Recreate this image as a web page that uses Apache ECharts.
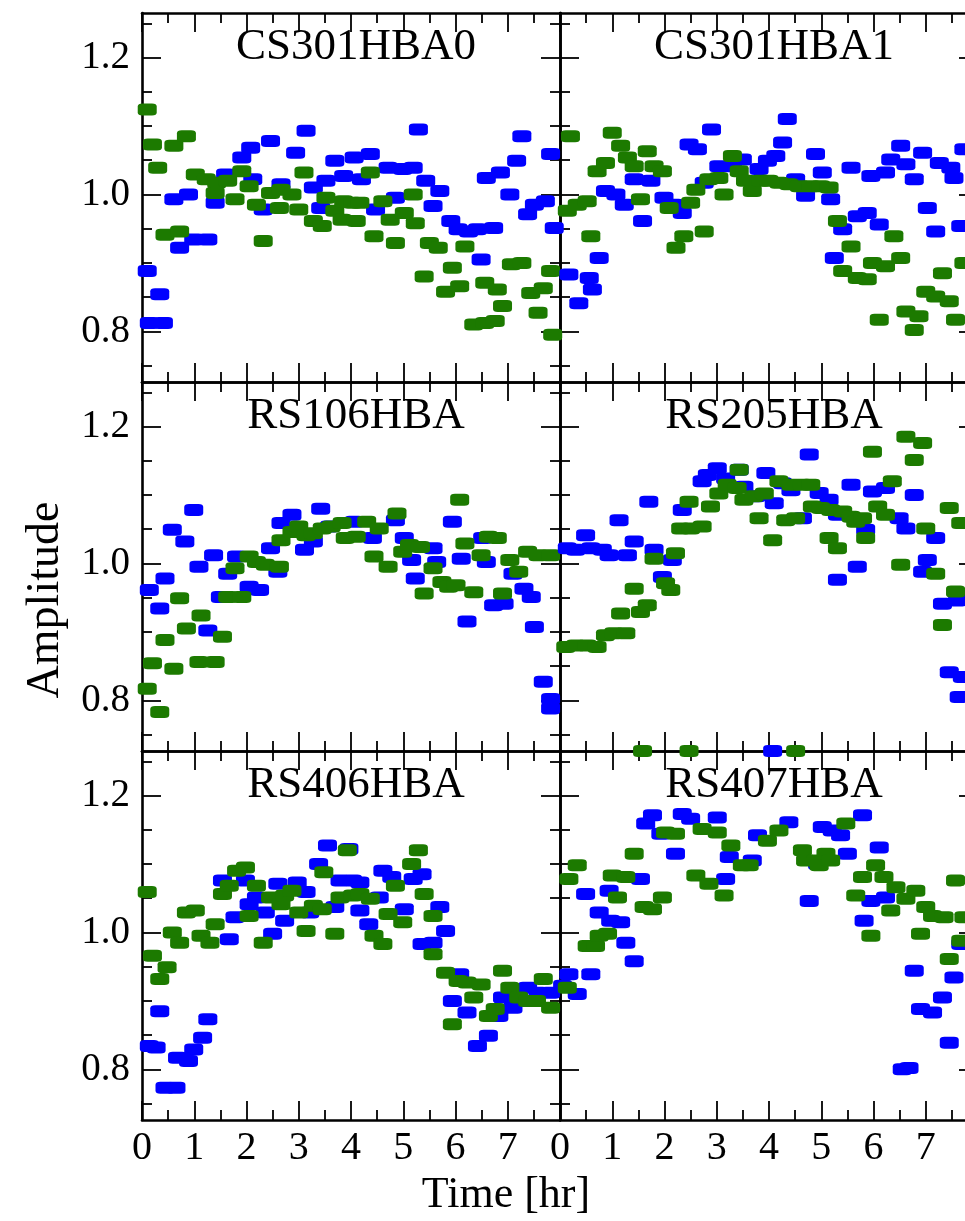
<!DOCTYPE html>
<html>
<head>
<meta charset="utf-8">
<script src="https://cdn.jsdelivr.net/npm/echarts@6/dist/echarts.min.js"></script>
<style>
  html, body { margin: 0; padding: 0; background: #fff; }
  #chart { width: 965px; height: 1221px; }
</style>
</head>
<body>
<div id="chart"></div>
<script>
// ---------------- data (time [hr], amplitude) ----------------
const panelNames = ['CS301HBA0', 'CS301HBA1', 'RS106HBA', 'RS205HBA', 'RS406HBA', 'RS407HBA'];

const cs301hba0Blue = [[0.1,0.888],[0.34,0.854],[0.14,0.812],[0.41,0.812],[0.61,0.993],[0.89,1.0],[0.72,0.922],[0.99,0.934],[1.26,0.934],[1.4,0.988],[1.6,1.029],[1.91,1.054],[2.08,1.068],[2.12,1.022],[2.32,0.978],[2.46,1.078],[2.66,1.015],[2.94,1.061],[3.14,1.093],[3.28,1.01],[3.42,0.98],[3.52,1.02],[3.69,1.049],[3.86,1.027],[4.06,1.054],[4.2,1.022],[4.37,1.059],[4.47,0.978],[4.71,1.039],[4.85,0.995],[4.99,1.037],[5.19,1.039],[5.29,1.095],[5.43,1.02],[5.57,0.983],[5.7,1.005],[5.91,0.961],[6.05,0.949],[6.25,0.946],[6.42,0.949],[6.49,0.905],[6.73,0.951],[6.59,1.024],[6.86,1.032],[7.04,1.0],[7.17,1.049],[7.27,1.085],[7.38,0.971],[7.51,0.985],[7.72,0.99],[7.82,1.059],[7.89,0.951]];
const cs301hba0Green = [[0.1,1.124],[0.2,1.073],[0.3,1.039],[0.61,1.071],[0.85,1.085],[0.44,0.941],[0.72,0.946],[1.02,1.029],[1.23,1.022],[1.43,1.017],[1.64,1.02],[1.4,1.002],[1.78,0.993],[1.91,1.034],[2.05,1.012],[2.19,0.985],[2.32,0.932],[2.46,1.002],[2.66,1.007],[2.87,1.0],[2.63,0.98],[3.0,0.978],[3.1,1.032],[3.28,0.961],[3.45,0.954],[3.52,0.995],[3.69,0.976],[3.86,0.99],[4.03,0.988],[4.17,0.988],[3.83,0.963],[4.1,0.961],[4.37,1.032],[4.44,0.939],[4.61,0.99],[4.75,0.963],[4.85,0.929],[5.02,0.973],[5.19,1.0],[5.23,0.958],[5.4,0.88],[5.5,0.929],[5.67,0.922],[5.81,0.858],[5.94,0.893],[6.08,0.866],[6.18,0.924],[6.35,0.81],[6.56,0.812],[6.76,0.815],[6.56,0.871],[6.8,0.861],[6.9,0.837],[7.07,0.898],[7.27,0.9],[7.44,0.856],[7.58,0.827],[7.68,0.863],[7.82,0.888],[7.86,0.795]];

const cs301hba1Blue = [[0.17,0.883],[0.36,0.841],[0.56,0.878],[0.62,0.861],[0.75,0.907],[0.87,1.005],[1.07,1.0],[1.23,0.985],[1.42,1.022],[1.58,0.961],[1.74,1.02],[1.99,0.995],[2.18,0.985],[2.34,0.973],[2.47,1.073],[2.63,1.066],[2.76,1.017],[2.9,1.095],[3.04,1.041],[3.3,1.041],[3.49,1.051],[3.81,1.037],[3.97,1.049],[4.13,1.056],[4.26,1.076],[4.35,1.11],[4.51,1.022],[4.7,0.998],[4.89,1.059],[5.02,1.032],[5.18,0.993],[5.25,0.907],[5.41,0.949],[5.57,1.039],[5.69,0.968],[5.88,0.973],[5.95,1.027],[6.11,0.956],[6.23,1.032],[6.33,1.051],[6.52,1.071],[6.62,1.044],[6.78,1.022],[6.94,1.061],[7.03,0.98],[7.19,0.946],[7.26,1.046],[7.48,1.039],[7.54,1.024],[7.67,0.954],[7.73,1.066]];
const cs301hba1Green = [[0.2,1.085],[0.14,0.976],[0.33,0.985],[0.52,0.99],[0.59,0.939],[0.71,1.034],[0.87,1.046],[1.0,1.09],[1.16,1.071],[1.29,1.054],[1.42,1.041],[1.54,0.993],[1.67,1.063],[1.8,1.041],[1.96,1.034],[2.09,0.98],[2.22,0.922],[2.37,0.939],[2.5,0.988],[2.6,1.007],[2.76,0.946],[2.85,1.022],[3.04,1.024],[3.14,1.0],[3.3,1.056],[3.43,1.034],[3.55,1.02],[3.68,1.005],[3.84,1.02],[4.0,1.02],[4.19,1.017],[4.38,1.015],[4.58,1.012],[4.8,1.012],[4.99,1.012],[5.15,1.01],[5.31,0.961],[5.57,0.924],[5.41,0.888],[5.69,0.878],[5.88,0.876],[5.98,0.9],[6.23,0.895],[6.39,0.939],[6.52,0.907],[6.11,0.817],[6.62,0.829],[6.78,0.802],[6.87,0.822],[7.0,0.858],[7.19,0.851],[7.32,0.885],[7.45,0.844],[7.57,0.817],[7.73,0.9]];

const rs106hbaBlue = [[0.14,0.961],[0.34,0.934],[0.44,0.978],[0.58,1.049],[0.82,1.032],[0.99,1.078],[1.09,0.995],[1.26,0.902],[1.37,1.012],[1.5,0.951],[1.64,0.985],[1.81,1.01],[2.05,0.966],[2.25,0.961],[2.46,1.022],[2.6,0.988],[2.66,1.059],[2.87,1.071],[3.11,1.02],[3.28,1.032],[3.42,1.08],[3.59,1.054],[4.06,1.061],[4.41,1.037],[4.85,1.063],[5.02,1.037],[5.16,1.005],[5.23,0.978],[5.57,1.022],[5.64,1.002],[5.94,1.061],[6.11,1.007],[6.22,0.915],[6.52,1.037],[6.59,1.002],[6.73,0.939],[6.93,0.941],[7.1,0.985],[7.31,0.963],[7.45,0.951],[7.51,0.907],[7.68,0.827],[7.82,0.802],[7.82,0.788]];
const rs106hbaGreen = [[0.1,0.817],[0.34,0.783],[0.2,0.854],[0.44,0.888],[0.61,0.846],[0.72,0.949],[0.85,0.905],[1.13,0.924],[1.09,0.856],[1.4,0.856],[1.54,0.893],[1.64,0.951],[1.78,0.993],[1.91,0.951],[2.05,1.01],[2.19,1.002],[2.36,0.998],[2.63,0.995],[2.66,1.034],[2.87,1.046],[3.0,1.054],[3.14,1.041],[3.28,1.044],[3.45,1.051],[3.62,1.054],[3.83,1.059],[3.89,1.037],[4.1,1.039],[4.3,1.061],[4.44,1.01],[4.54,1.051],[4.71,0.995],[4.88,1.073],[4.99,1.017],[5.12,1.027],[5.33,1.024],[5.4,0.956],[5.57,0.993],[5.74,0.973],[5.87,0.966],[6.01,0.968],[6.08,1.093],[6.18,1.029],[6.35,0.958],[6.49,1.012],[6.63,1.039],[6.8,1.037],[6.9,0.956],[7.04,1.005],[7.21,0.988],[7.38,1.017],[7.58,1.012],[7.82,1.012]];

const rs205hbaBlue = [[0.14,1.022],[0.49,1.041],[0.3,1.02],[0.59,1.022],[0.81,1.02],[0.94,1.012],[1.13,1.063],[1.29,1.012],[1.42,1.032],[1.7,1.09],[1.8,1.02],[1.96,0.98],[2.15,1.005],[2.34,1.078],[2.72,1.12],[2.82,1.129],[3.01,1.139],[3.17,1.124],[3.43,1.137],[3.52,1.112],[3.75,1.098],[3.94,1.132],[4.1,1.088],[4.26,1.117],[4.42,1.107],[4.64,1.066],[4.77,1.159],[4.96,1.103],[5.15,1.093],[5.31,1.071],[5.31,0.976],[5.57,1.115],[5.69,0.995],[5.85,1.049],[5.98,1.105],[6.23,1.11],[6.49,1.066],[6.62,1.051],[6.78,1.1],[6.94,0.988],[7.03,1.005],[7.19,1.037],[7.32,0.941],[7.45,0.841],[7.64,0.805],[7.7,0.834],[7.61,0.946]];
const rs205hbaGreen = [[0.11,0.878],[0.3,0.88],[0.52,0.88],[0.71,0.878],[0.87,0.895],[1.03,0.898],[1.26,0.898],[1.16,0.927],[1.42,0.963],[1.54,0.929],[1.67,0.939],[1.8,1.007],[2.02,0.971],[2.12,0.961],[2.21,1.015],[2.31,1.051],[2.47,1.09],[2.5,1.051],[2.72,1.054],[2.88,1.083],[3.04,1.102],[3.2,1.115],[3.43,1.137],[3.39,1.11],[3.52,1.093],[3.71,1.098],[3.81,1.066],[3.91,1.102],[4.07,1.034],[4.19,1.12],[4.32,1.063],[4.42,1.115],[4.51,1.066],[4.64,1.115],[4.8,1.115],[4.83,1.083],[4.99,1.081],[5.15,1.037],[5.18,1.078],[5.31,1.022],[5.41,1.076],[5.57,1.068],[5.66,1.061],[5.79,1.066],[5.85,1.037],[5.98,1.163],[6.08,1.083],[6.23,1.071],[6.36,1.12],[6.52,0.998],[6.62,1.185],[6.78,1.151],[6.94,1.176],[7.0,1.051],[7.19,0.985],[7.32,0.91],[7.45,1.081],[7.57,0.959],[7.67,1.059]];

const rs406hbaBlue = [[0.14,0.834],[0.27,0.832],[0.34,0.885],[0.44,0.773],[0.65,0.773],[0.68,0.817],[0.89,0.812],[0.99,0.829],[1.16,0.846],[1.26,0.873],[1.54,1.076],[1.67,0.99],[1.78,1.022],[1.98,1.076],[2.05,1.041],[2.19,1.051],[2.36,1.029],[2.5,0.998],[2.6,1.071],[2.73,1.017],[2.97,1.073],[3.14,1.059],[3.21,1.029],[3.38,1.1],[3.55,1.127],[3.69,1.037],[3.79,1.076],[3.96,1.122],[4.03,1.076],[4.17,1.073],[4.17,1.032],[4.34,1.012],[4.54,1.051],[4.61,1.09],[4.78,1.081],[5.02,1.034],[5.19,1.078],[5.36,1.085],[5.36,0.983],[5.57,0.985],[5.7,1.037],[5.81,1.002],[5.94,0.9],[6.08,0.939],[6.22,0.883],[6.42,0.834],[6.63,0.849],[6.83,0.878],[6.9,0.905],[7.1,0.89],[7.17,0.915],[7.38,0.919],[7.58,0.912],[7.82,0.912]];
const rs406hbaGreen = [[0.1,1.059],[0.2,0.966],[0.34,0.932],[0.48,0.949],[0.58,1.0],[0.72,0.985],[0.85,1.029],[1.02,1.032],[1.13,0.995],[1.3,0.985],[1.4,1.012],[1.54,1.056],[1.67,1.068],[1.81,1.09],[1.98,1.095],[2.05,1.024],[2.19,1.068],[2.32,0.985],[2.46,1.051],[2.66,1.041],[2.73,1.054],[2.87,1.061],[3.0,1.029],[3.14,1.002],[3.28,1.039],[3.45,1.034],[3.48,1.088],[3.69,0.998],[3.79,1.051],[3.93,1.12],[4.03,1.054],[4.17,1.056],[4.37,1.049],[4.44,0.995],[4.61,0.983],[4.71,1.027],[4.85,1.068],[4.99,1.015],[5.16,1.1],[5.29,1.12],[5.4,1.056],[5.57,1.024],[5.57,0.968],[5.81,0.941],[5.94,0.866],[6.05,0.929],[6.22,0.927],[6.35,0.905],[6.49,0.924],[6.63,0.878],[6.76,0.888],[6.9,0.944],[7.04,0.919],[7.21,0.905],[7.38,0.9],[7.55,0.9],[7.68,0.932],[7.82,0.89]];

const rs407hbaBlue = [[0.05,0.922],[0.17,0.939],[0.33,0.91],[0.59,0.939],[0.49,1.056],[0.75,1.029],[0.94,1.061],[0.97,1.017],[1.16,1.015],[1.26,0.985],[1.42,0.958],[1.54,1.078],[1.64,1.159],[1.77,1.171],[1.93,1.144],[2.21,1.115],[2.34,1.173],[2.5,1.166],[3.01,1.168],[3.17,1.078],[3.24,1.11],[3.68,1.105],[3.78,1.142],[4.07,1.265],[4.38,1.161],[4.77,1.046],[4.93,1.1],[5.02,1.154],[5.21,1.149],[5.37,1.142],[5.5,1.115],[5.79,1.171],[5.82,1.017],[5.95,1.046],[6.11,1.124],[6.23,1.051],[6.78,0.944],[6.9,0.888],[7.13,0.883],[7.32,0.905],[7.45,0.839],[7.54,0.934],[7.67,0.983],[6.55,0.8],[6.68,0.802]];
const rs407hbaGreen = [[0.17,1.078],[0.33,1.098],[0.14,0.919],[0.52,0.98],[0.68,0.98],[0.75,0.995],[0.91,0.998],[1.0,1.083],[1.1,1.051],[1.26,1.081],[1.42,1.115],[1.58,1.265],[1.61,1.037],[1.77,1.034],[1.96,1.051],[2.02,1.146],[2.21,1.144],[2.47,1.265],[2.6,1.083],[2.72,1.151],[2.85,1.071],[3.01,1.146],[3.14,1.054],[3.27,1.127],[3.49,1.098],[3.62,1.098],[3.97,1.134],[4.19,1.149],[4.51,1.265],[4.64,1.12],[4.7,1.105],[4.89,1.105],[4.96,1.098],[5.09,1.115],[5.18,1.105],[5.47,1.159],[5.66,1.054],[5.79,1.081],[5.95,0.995],[6.04,1.098],[6.2,1.081],[6.33,1.032],[6.43,1.066],[6.62,1.049],[6.81,1.061],[6.9,0.998],[7.0,1.037],[7.13,1.024],[7.35,1.022],[7.45,0.961],[7.57,1.076],[7.67,0.988],[7.73,1.022]];

const blueSets = [cs301hba0Blue, cs301hba1Blue, rs106hbaBlue, rs205hbaBlue, rs406hbaBlue, rs407hbaBlue];
const greenSets = [cs301hba0Green, cs301hba1Green, rs106hbaGreen, rs205hbaGreen, rs406hbaGreen, rs407hbaGreen];

// tick values / labels
const xLabelValues = [0, 1, 2, 3, 4, 5, 6, 7];
const yMajorTicks = [0.8, 1.0, 1.2];
const yMinorTicks = [0.75, 0.85, 0.9, 0.95, 1.05, 1.1, 1.15, 1.25];
const xLabelName = 'Time [hr]';
const yLabelName = 'Amplitude';

// ---------------- layout & style ----------------
const FONT = "'Liberation Serif', 'DejaVu Serif', serif";
const Y_MIN = 0.726, Y_MAX = 1.265;
const colLeft = [142, 560];
const rowTop = [13, 382, 751];
const PW = 418, PH = 369;
const BLUE = '#0000ff', GREEN = '#1c7a00';

const grids = [], xAxes = [], yAxes = [], series = [], titles = [];

panelNames.forEach((name, i) => {
  const row = Math.floor(i / 2), col = i % 2;
  grids.push({ left: colLeft[col], top: rowTop[row], width: PW, height: PH,
               containLabel: false, outerBoundsMode: 'none' });

  const line = { show: true, lineStyle: { color: '#000', width: 2.6 } };
  const tickStyle = { color: '#000', width: 1.8 };

  ['bottom', 'top'].forEach(pos => {
    xAxes.push({
      gridIndex: i, type: 'value', position: pos, min: 0, max: 8, interval: 1,
      axisLine: line,
      axisTick: { show: true, inside: true, length: 19, lineStyle: tickStyle },
      minorTick: { show: true, splitNumber: 2, length: 10, lineStyle: tickStyle },
      splitLine: { show: false }, minorSplitLine: { show: false },
      axisLabel: {
        show: pos === 'bottom' && row === 2, customValues: xLabelValues,
        margin: 8, fontFamily: FONT, fontSize: 40, color: '#000',
        formatter: v => String(v)
      }
    });
  });

  ['left', 'right'].forEach(pos => {
    yAxes.push({
      gridIndex: i, type: 'value', position: pos, min: Y_MIN, max: Y_MAX,
      axisLine: line,
      axisTick: { show: true, inside: true, length: 19, customValues: yMajorTicks, lineStyle: tickStyle },
      splitLine: { show: false },
      axisLabel: {
        show: pos === 'left' && col === 0, customValues: yMajorTicks,
        margin: 12, fontFamily: FONT, fontSize: 39, color: '#000',
        formatter: v => v.toFixed(1)
      }
    });
    yAxes.push({
      gridIndex: i, type: 'value', position: pos, min: Y_MIN, max: Y_MAX,
      axisLine: { show: false },
      axisTick: { show: true, inside: true, length: 10, customValues: yMinorTicks, lineStyle: tickStyle },
      splitLine: { show: false },
      axisLabel: { show: false, customValues: yMinorTicks }
    });
  });

  const common = { type: 'scatter', xAxisIndex: 2 * i, yAxisIndex: 4 * i,
                   symbol: 'roundRect', symbolSize: [19, 12], silent: true, animation: false };
  series.push(Object.assign({}, common, { name: name + ' XX', data: blueSets[i], itemStyle: { color: BLUE, opacity: 1 } }));
  series.push(Object.assign({}, common, { name: name + ' YY', data: greenSets[i], itemStyle: { color: GREEN, opacity: 1 } }));

  titles.push({
    text: name, left: colLeft[col] + PW / 2, top: rowTop[row] + 7, textAlign: 'center',
    textStyle: { fontFamily: FONT, fontSize: 45, fontWeight: 'normal', color: '#000' }
  });
});

const chart = echarts.init(document.getElementById('chart'), null, { renderer: 'canvas' });
chart.setOption({
  backgroundColor: '#fff',
  animation: false,
  title: titles,
  grid: grids,
  xAxis: xAxes,
  yAxis: yAxes,
  series: series,
  graphic: [
    { type: 'text', x: 46, y: 600, rotation: Math.PI / 2,
      style: { text: yLabelName, fontFamily: FONT, fontSize: 46, fill: '#000',
               align: 'center', verticalAlign: 'middle' } },
    { type: 'text', x: 506, y: 1195,
      style: { text: xLabelName, fontFamily: FONT, fontSize: 44, fill: '#000',
               align: 'center', verticalAlign: 'middle' } }
  ]
});
</script>
</body>
</html>
